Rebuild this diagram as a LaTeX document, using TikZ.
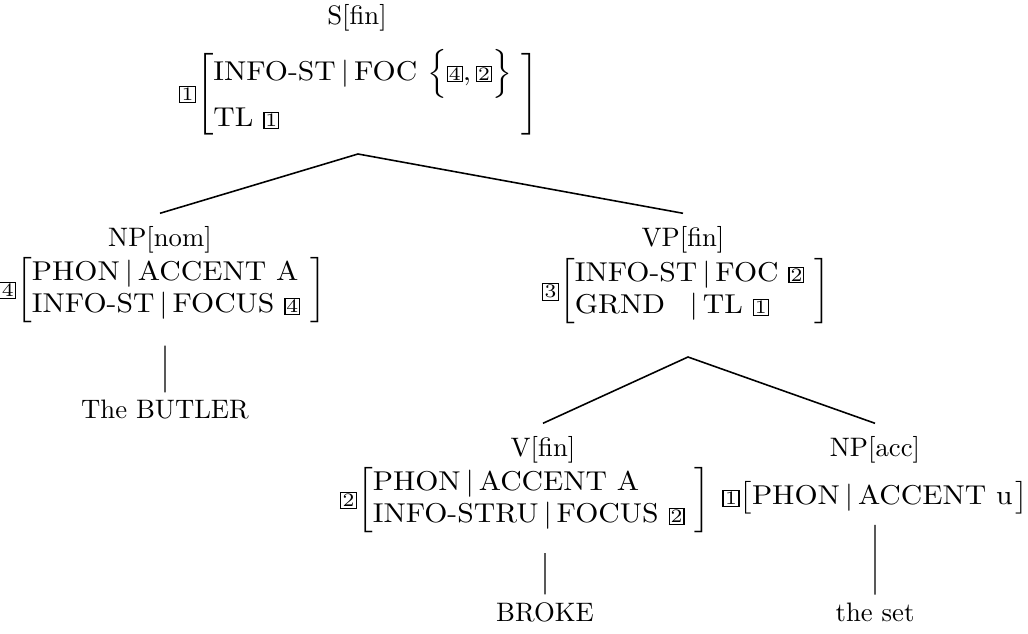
\documentclass[tikz,border=0pt]{standalone}
\usepackage{amsmath}
\usepackage{tikz}
\usetikzlibrary{positioning,calc}

% boxed tags
\newcommand{\tg}[1]{{\setlength{\fboxsep}{0.3pt}\setlength{\fboxrule}{0.4pt}\fbox{\scriptsize #1}}}
\newcommand{\Tg}[1]{{\setlength{\fboxsep}{0.5pt}\setlength{\fboxrule}{0.4pt}\fbox{\scriptsize #1}}}
\newcommand{\pth}{\,$|$\,}
\newcommand{\avm}[2]{$\Tg{#1}\!\left[\begin{tabular}{@{}l@{\ }}#2\end{tabular}\right]$}

\begin{document}
\begin{tikzpicture}[
    every node/.style={inner sep=0pt},
    cat/.style={font=\normalsize, scale=1.52, transform shape, outer sep=5pt},
    avmbox/.style={font=\normalsize, xscale=1.69, yscale=1.55, transform shape},
    word/.style={font=\normalsize, scale=1.52, transform shape, outer sep=3pt},
    branch/.style={line width=0.9pt},
    unary/.style={line width=0.6pt}
  ]
    \useasboundingbox (0,0) rectangle (20.56,-12.68);

    % root
    \node[cat] (sfin) at (7.14,-0.36) {S[fin]};
    \node[avmbox] (savm) at (7.18,-1.88) {\renewcommand{\arraystretch}{1.25}%
      \avm{1}{INFO-ST\pth FOC $\Bigl\{\tg{4}, \tg{2}\Bigr\}$\\ TL \tg{1}}};
    \coordinate (s) at (7.16,-3.08);

    % subject
    \node[cat] (npnom) at (3.2,-4.8) {NP[nom]};
    \node[avmbox] (npavm) at (3.25,-5.8) {\avm{4}{PHON\pth ACCENT A\\ INFO-ST\pth FOCUS \tg{4}}};
    \node[word] (butler) at (3.3,-8.2) {The BUTLER};

    % verb phrase
    \node[cat] (vpfin) at (13.66,-4.8) {VP[fin]};
    \node[avmbox] (vpavm) at (13.72,-5.82) {\avm{3}{INFO-ST\pth FOC \tg{2}\\ GRND\ \ \pth TL \tg{1}\ \ }};
    \coordinate (vp) at (13.76,-7.14);

    \node[cat] (vfin) at (10.86,-9.0) {V[fin]};
    \node[avmbox] (vavm) at (10.5,-10.0) {\avm{2}{PHON\pth ACCENT A\\ INFO-STRU\pth FOCUS \tg{2}}};
    \node[word] (broke) at (10.9,-12.24) {BROKE};

    \node[cat] (npacc) at (17.5,-9.0) {NP[acc]};
    \node[avmbox] (accavm) at (17.5,-9.96) {\avm{1}{PHON\pth ACCENT u\kern-2.5pt}};
    \node[word] (theset) at (17.5,-12.24) {the set};

    % branches
    \draw[branch] (npnom.north) -- (s) -- (vpfin.north);
    \draw[branch] (vfin.north) -- (vp) -- (npacc.north);
    \draw[unary] ([yshift=-0.45cm]npavm.south -| butler.north) -- (butler);
    \draw[unary] ([yshift=-0.4cm]vavm.south -| broke.north) -- (broke);
    \draw[unary] ([yshift=-0.2cm]accavm.south -| theset.north) -- (theset);
\end{tikzpicture}
\end{document}
